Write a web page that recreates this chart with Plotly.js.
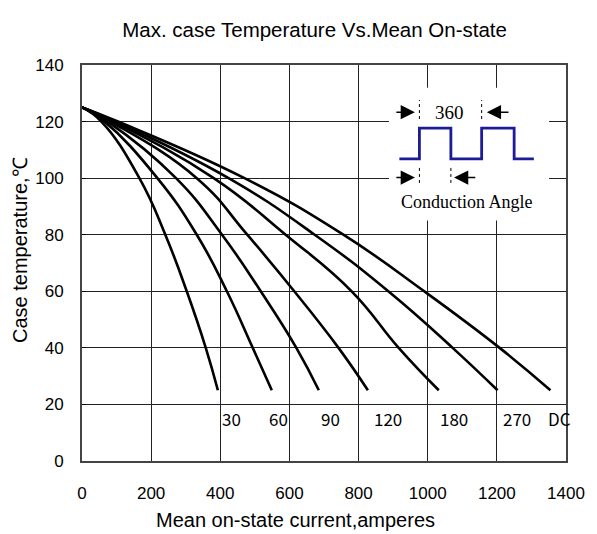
<!DOCTYPE html>
<html>
<head>
<meta charset="utf-8">
<script src="https://cdn.plot.ly/plotly-3.0.1.min.js"></script>
<style>html,body{margin:0;padding:0;background:#fff;}#chart{width:597px;height:534px;}</style>
</head>
<body>
<div id="chart"></div>
<script>
// Temperature levels (°C) at which each curve was read
const tempLevels = [125, 120, 100, 80, 60, 40, 25];
// Mean on-state current (A) for each conduction angle at those temperatures
const cur30  = [0, 56, 166, 241, 303, 358, 393];
const cur60  = [0, 65, 218, 332, 419, 494, 549];
const cur90  = [0, 74, 272, 405, 517, 620, 685];
const cur120 = [0, 82, 332, 478, 614, 742, 827];
const cur180 = [0, 90, 381, 589, 780, 916, 1032];
const cur270 = [0, 97, 424, 673, 886, 1072, 1202];
const curDC  = [0, 104, 470, 756, 990, 1208, 1355];
const seriesNames = ['30', '60', '90', '120', '180', '270', 'DC'];
const seriesData = [cur30, cur60, cur90, cur120, cur180, cur270, curDC];
// Curve label positions (A) along the bottom
const labelX = [433, 569, 720, 885, 1075, 1258, 1382];
const labelY = 15;

const traces = seriesData.map((xs, i) => ({
  x: xs, y: tempLevels, name: seriesNames[i], type: 'scatter', mode: 'lines',
  line: {color: '#000', width: 2.6, shape: 'spline', smoothing: 1.3},
  hoverinfo: 'skip', showlegend: false
}));

const annotations = seriesNames.map((n, i) => ({
  x: labelX[i], y: labelY, xref: 'x', yref: 'y', text: n, showarrow: false,
  font: {family: 'Noto Sans CJK SC, DejaVu Sans', size: 17, color: '#000'}
}));

// Axis titles (placed as in the reference, slightly off-centre)
annotations.push({x: 295, y: 520, xref: 'paper', yref: 'paper', text: 'Mean on-state current,amperes',
  xanchor: 'center', yanchor: 'middle', showarrow: false, font: {size: 20, color: '#000'}});
annotations.push({x: 20, y: 250, xref: 'paper', yref: 'paper', text: 'Case temperature,℃', textangle: -90,
  xanchor: 'center', yanchor: 'middle', showarrow: false, font: {size: 20, color: '#000'}});

// Inset: conduction angle diagram
const serif = 'Liberation Serif, Times New Roman, serif';
annotations.push({x: 1063, y: 123.3, xref: 'x', yref: 'y', text: '360', showarrow: false,
  font: {family: serif, size: 19, color: '#000'}});
annotations.push({x: 1115, y: 91.7, xref: 'x', yref: 'y', text: 'Conduction Angle', showarrow: false,
  font: {family: serif, size: 18, color: '#000'}});
const arrows = [
  [963, 123.3, 905], [1171, 123.3, 1238],
  [963, 100.2, 905], [1076, 100.2, 1142]
];
arrows.forEach(a => annotations.push({
  x: a[0], y: a[1], ax: a[2], ay: a[1], xref: 'x', yref: 'y', axref: 'x', ayref: 'y',
  text: '', showarrow: true, arrowhead: 2, arrowsize: 1.9, arrowwidth: 1.5, arrowcolor: '#000'
}));

const shapes = [
  {type: 'rect', xref: 'x', yref: 'y', x0: 888, x1: 1351, y0: 85, y1: 132,
   fillcolor: '#fff', line: {width: 0}, layer: 'above'},
  {type: 'path', xref: 'x', yref: 'y', layer: 'above',
   path: 'M918,106.8 L976,106.8 L976,117.7 L1067,117.7 L1067,106.8 L1156,106.8 L1156,117.7 L1250,117.7 L1250,106.8 L1307,106.8',
   line: {color: '#1c1c96', width: 2.8}},
  {type: 'line', xref: 'x', yref: 'y', x0: 976, x1: 976, y0: 120.9, y1: 127.6, layer: 'above', line: {color: '#000', width: 1, dash: 'dot'}},
  {type: 'line', xref: 'x', yref: 'y', x0: 1156, x1: 1156, y0: 120.9, y1: 127.6, layer: 'above', line: {color: '#000', width: 1, dash: 'dot'}},
  {type: 'line', xref: 'x', yref: 'y', x0: 976, x1: 976, y0: 98.3, y1: 104.6, layer: 'above', line: {color: '#000', width: 1, dash: 'dot'}},
  {type: 'line', xref: 'x', yref: 'y', x0: 1067, x1: 1067, y0: 98.3, y1: 104.6, layer: 'above', line: {color: '#000', width: 1, dash: 'dot'}}
];

// convert pixel-placed paper annotations to paper fractions
const W = 597, H = 534, M = {l: 82, r: 31, t: 65, b: 73};
annotations.forEach(a => {
  if (a.xref === 'paper') {
    a.x = (a.x - M.l) / (W - M.l - M.r);
    a.y = (H - M.b - a.y) / (H - M.t - M.b);
  }
});

const layout = {
  width: W, height: H,
  margin: M,
  paper_bgcolor: '#fff', plot_bgcolor: '#fff',
  font: {family: 'Liberation Sans, Arial, sans-serif', color: '#000'},
  title: {text: 'Max. case Temperature Vs.Mean On-state', x: 0.527, xanchor: 'center',
          yref: 'container', y: 0.944, yanchor: 'middle',
          font: {size: 20.5, color: '#000'}},
  xaxis: {range: [0, 1400], dtick: 200, tick0: 0, showgrid: true, gridcolor: '#222', gridwidth: 1,
          zeroline: false, showline: true, mirror: true, linecolor: '#444', linewidth: 2,
          ticks: '', tickfont: {size: 17}, ticklabelstandoff: 16},
  yaxis: {range: [0, 140], dtick: 20, tick0: 0, showgrid: true, gridcolor: '#222', gridwidth: 1,
          zeroline: false, showline: true, mirror: true, linecolor: '#444', linewidth: 2,
          ticks: 'inside', ticklen: 4, tickcolor: '#000', tickfont: {size: 17}, ticklabelstandoff: 13},
  shapes: shapes,
  annotations: annotations,
  showlegend: false
};

Plotly.newPlot('chart', traces, layout, {displayModeBar: false, staticPlot: true});
</script>
</body>
</html>
